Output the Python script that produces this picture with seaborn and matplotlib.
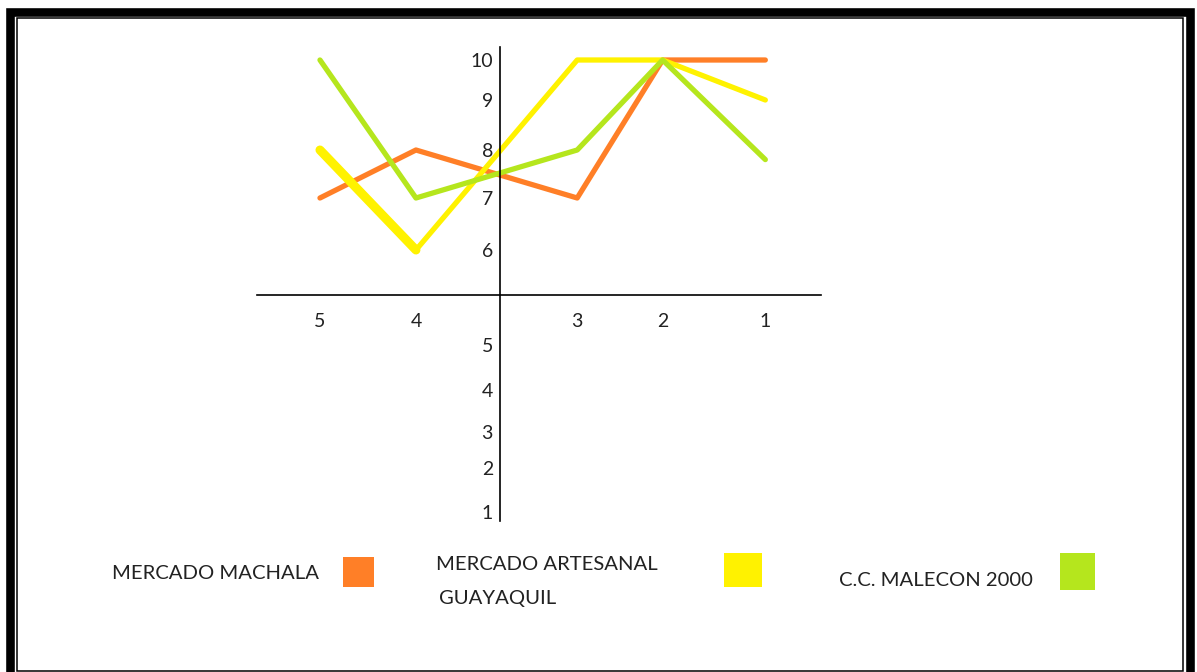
import matplotlib
matplotlib.use("Agg")
import matplotlib.pyplot as plt
from matplotlib.patches import Rectangle
import numpy as np
import pandas as pd
import seaborn as sns

# --- data -------------------------------------------------------------
posiciones = ["5", "4", "3", "2", "1"]
sitios = ["MERCADO MACHALA", "MERCADO ARTESANAL GUAYAQUIL", "C.C. MALECON 2000"]
mercado_machala = [7, 8, 7, 10, 10]
mercado_artesanal = [8, 6, 10, 10, 9]
malecon_2000 = [10, 7, 8, 10, 7.8]
colores = ["#FF7F27", "#FFF200", "#B5E61D"]

valores_y = [1, 2, 3, 4, 5, 6, 7, 8, 9, 10]

# --- layout of the hand-drawn axes ------------------------------------
W, H, DPI = 1197, 672, 100
x_slot = {"5": 0.0, "4": 1.0, "3": 2.68, "2": 3.57, "1": 4.64}
eje_x = 1.875            # where the vertical axis crosses
# uneven hand spacing of the vertical scale (value -> pixel row)
nudos_valor = [0.8, 1, 2, 3, 4, 5, 6, 7, 8, 9, 10, 10.3]
nudos_fila = [521, 512, 468, 432, 390, 345, 250, 198, 150, 100, 60, 47]
eje_y = 5.53             # where the horizontal axis crosses


def _interp_ext(v, xs, ys):
    v = np.asarray(v, dtype=float)
    out = np.interp(v, xs, ys)
    lo = v < xs[0]
    hi = v > xs[-1]
    out[lo] = ys[0] + (v[lo] - xs[0]) * (ys[1] - ys[0]) / (xs[1] - xs[0])
    out[hi] = ys[-1] + (v[hi] - xs[-1]) * (ys[-1] - ys[-2]) / (xs[-1] - xs[-2])
    return out


_xs = np.array(nudos_valor, dtype=float)
_ys = -np.array(nudos_fila, dtype=float)


def adelante(v):
    return _interp_ext(v, _xs, _ys)


def atras(u):
    return _interp_ext(u, _ys, _xs)


sns.set_theme(style="white")
plt.rcParams["font.family"] = ["Lato", "DejaVu Sans"]

fig = plt.figure(figsize=(W / DPI, H / DPI), dpi=DPI)
fig.patch.set_facecolor("white")


def fx(px):
    return px / W


def fy(py):
    return 1 - py / H


ax = fig.add_axes([fx(257), fy(521), (821 - 257) / W, (521 - 47) / H])
ax.set_facecolor("none")
ax.set_yscale("function", functions=(adelante, atras))

series = [mercado_machala, mercado_artesanal, malecon_2000]
registros = []
for sitio, valores in zip(sitios, series):
    for p, v in zip(posiciones, valores):
        registros.append({"sitio": sitio, "posicion": p, "x": x_slot[p], "valor": v})
df = pd.DataFrame(registros)

for sitio, color in zip(sitios, colores):
    sub = df[df["sitio"] == sitio]
    sns.lineplot(data=sub, x="x", y="valor", color=color, linewidth=3.8,
                 sort=False, ax=ax, legend=False)
    if sitio == sitios[1]:
        # heavier first stroke of the yellow series
        tramo = sub[sub["posicion"].isin(["5", "4"])]
        sns.lineplot(data=tramo, x="x", y="valor", color=color, linewidth=6.5,
                     sort=False, ax=ax, legend=False)

ax.set_xlim(-0.656, 5.22)
ax.set_ylim(nudos_valor[0], nudos_valor[-1])

for lado in ["top", "right"]:
    ax.spines[lado].set_visible(False)
ax.spines["left"].set_position(("data", eje_x))
ax.spines["bottom"].set_position(("data", eje_y))
for lado in ["left", "bottom"]:
    ax.spines[lado].set_color("black")
    ax.spines[lado].set_linewidth(1.2)
    ax.spines[lado].set_zorder(5)

ax.set_xticks([x_slot[p] for p in posiciones])
ax.set_xticklabels(posiciones)
ax.set_yticks(valores_y)
ax.set_yticklabels([str(v) for v in valores_y])
ax.minorticks_off()
ax.tick_params(axis="x", length=0, pad=13, labelsize=14, colors="#222222")
ax.tick_params(axis="y", length=0, pad=5, labelsize=14, colors="#222222")
ax.set_xlabel("")
ax.set_ylabel("")
ax.grid(False)

# --- legend drawn as labels and swatches ------------------------------
lineas = [[(112, 572, "MERCADO MACHALA")],
          [(436, 563, "MERCADO ARTESANAL"), (439, 597, "GUAYAQUIL")],
          [(839, 579, "C.C. MALECON 2000")]]
cajas = [(343, 557, 31, 30), (724, 553, 38, 34), (1060, 553, 35, 37)]
for partes, (bx, by, bw, bh), color in zip(lineas, cajas, colores):
    for tx, ty, texto in partes:
        fig.text(fx(tx), fy(ty), texto, ha="left", va="center_baseline",
                 fontsize=14.6, color="#222222")
    fig.patches.append(Rectangle((fx(bx), fy(by + bh)), bw / W, bh / H,
                                 transform=fig.transFigure, facecolor=color,
                                 edgecolor="none"))

# --- double frame -----------------------------------------------------
fig.patches.append(Rectangle((fx(10), fy(700)), (1190 - 10) / W, (700 - 11.5) / H,
                             transform=fig.transFigure, facecolor="none",
                             edgecolor="black", linewidth=6.2, clip_on=False))
fig.patches.append(Rectangle((fx(16.5), fy(670.5)), (1182.5 - 16.5) / W, (670.5 - 17.5) / H,
                             transform=fig.transFigure, facecolor="none",
                             edgecolor="black", linewidth=1.1))

fig.savefig("out.png", dpi=DPI, facecolor="white")
